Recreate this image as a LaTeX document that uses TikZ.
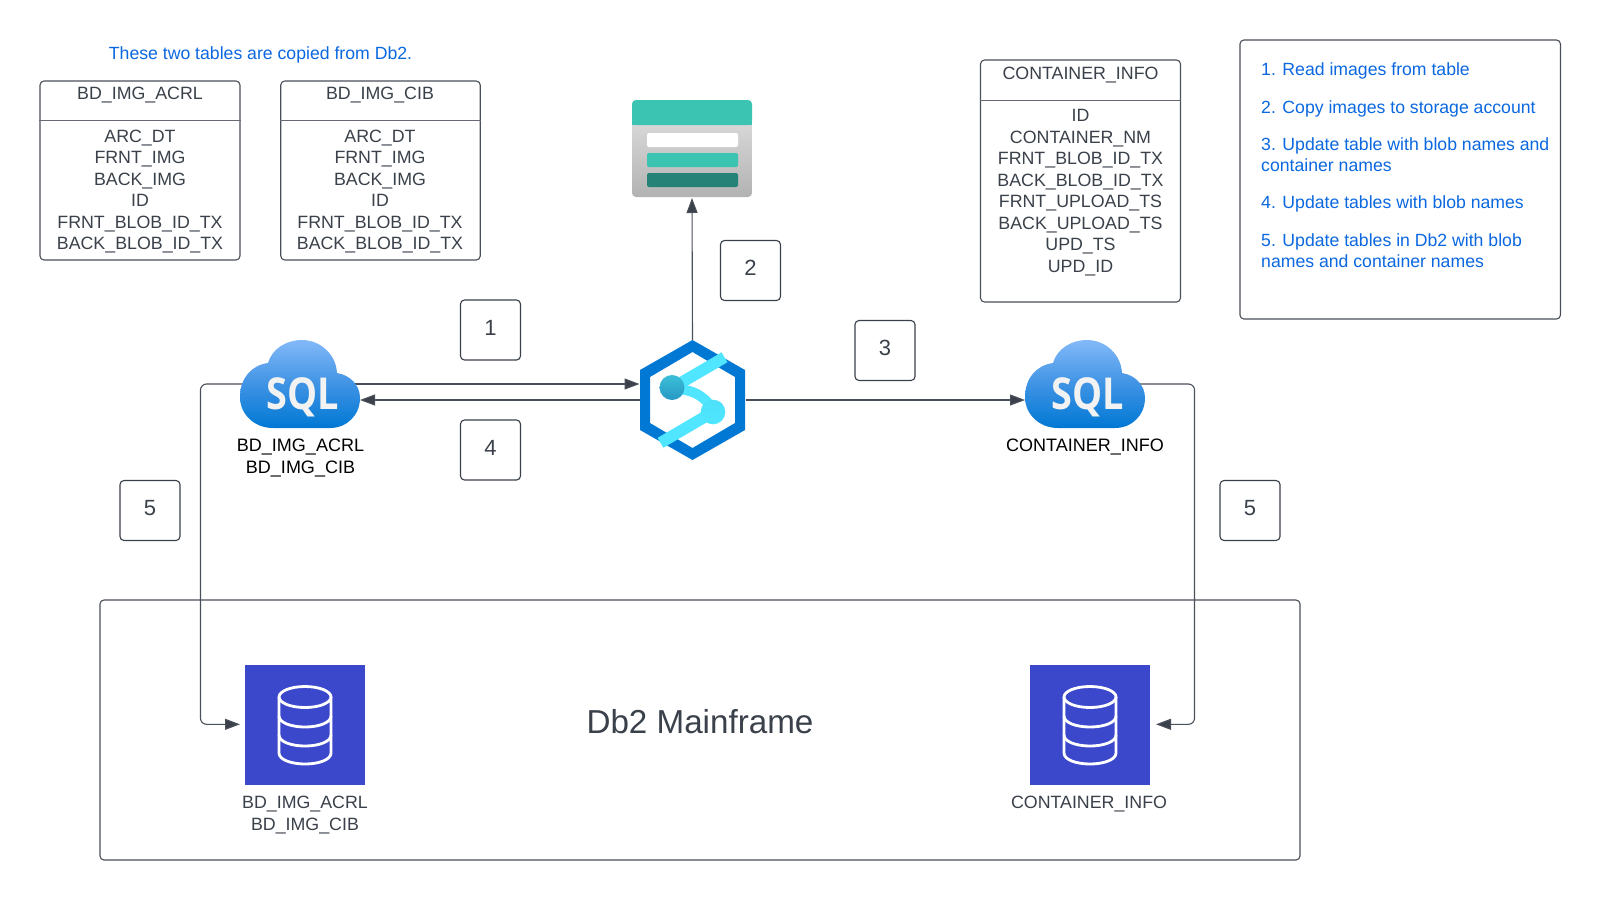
\documentclass[tikz,border=0pt]{standalone}
\usepackage{fontspec}
\setmainfont{Liberation Sans}
\newfontfamily\sqlfont{Open Sans}
\usetikzlibrary{arrows.meta,calc}
\definecolor{inkdark}{HTML}{3A414A}
\definecolor{linecol}{HTML}{4A505A}
\definecolor{noteblue}{HTML}{0B68E0}
\definecolor{azure}{HTML}{0078D4}
\definecolor{cyanbar}{HTML}{50E6FF}
\definecolor{teal}{HTML}{3AC4B1}
\definecolor{tealdark}{HTML}{258277}
\definecolor{dbblue}{HTML}{3B48CC}
\definecolor{AzureTop}{HTML}{83B9F9}
\definecolor{AzureMid}{HTML}{3F93E4}
\definecolor{dotTop}{HTML}{3BBFD8}
\definecolor{dotBot}{HTML}{2698C4}
\tikzset{
  x=1pt,y=-1pt,
  txt/.style={font=\fontsize{18}{21.5}\selectfont,inner sep=0pt,align=center},
  tabletxt/.style={font=\fontsize{17.8}{21.5}\selectfont,inner sep=0pt,align=center,text=inkdark},
  note/.style={font=\fontsize{17.65}{21}\selectfont,inner sep=0pt,align=left,anchor=west,text=noteblue},
  framebox/.style={draw=linecol,line width=1.1pt,rounded corners=4pt,inner sep=0pt,fill=white},
  divider/.style={draw=linecol!85,line width=1pt},
  numbox/.style={framebox,draw=inkdark,minimum width=60pt,minimum height=60pt,text depth=5pt,font=\fontsize{22}{24}\selectfont,text=inkdark},
  icon/.style={inner sep=0pt,outer sep=0pt},
  conn/.style={draw=linecol,line width=1.1pt,-{Triangle[length=15pt,width=11pt,fill=inkdark]}},
}
\newcommand{\sqlcloud}[2]{%
  \begin{scope}[shift={(#1,#2)}]
    \shade[top color=AzureTop,bottom color=azure,middle color=AzureMid]
      (0,57) .. controls (0,38) and (12,25) .. (28,23)
      .. controls (32,9) and (46,0) .. (62,0)
      .. controls (80,0) and (96,14) .. (97,33)
      .. controls (110,35) and (120,45) .. (120,58)
      .. controls (120,75) and (107,88) .. (90,88)
      -- (33,88) .. controls (14,88) and (0,74) .. (0,57) -- cycle;
    \node[icon,text=white!95!black,font=\sqlfont\bfseries\fontsize{44}{44}\selectfont,xscale=.86,transform shape] at (62.5,57) {SQL};
  \end{scope}}
\newcommand{\dbicon}[2]{%
  \begin{scope}[shift={(#1,#2)}]
    \fill[dbblue] (0,0) rectangle (120,120);
    \begin{scope}[draw=white,line width=2.8pt]
      \draw (60,32) ellipse [x radius=26,y radius=10.5];
      \draw (34,32) -- (34,88) .. controls (34,95) and (47,99) .. (60,99) .. controls (73,99) and (86,95) .. (86,88) -- (86,32);
      \draw (34,51) .. controls (34,58) and (47,62) .. (60,62) .. controls (73,62) and (86,58) .. (86,51);
      \draw (34,70) .. controls (34,77) and (47,81) .. (60,81) .. controls (73,81) and (86,77) .. (86,70);
    \end{scope}
  \end{scope}}
\begin{document}
\begin{tikzpicture}
\useasboundingbox (0,0) rectangle (1600,900);
\fill[white] (0,0) rectangle (1600,900);

% invisible anchors for icons
\node[icon,minimum width=120pt,minimum height=88pt] (sqlA) at (300,384) {};
\node[icon,minimum width=120pt,minimum height=88pt] (sqlB) at (1085,384) {};
\node[icon,minimum width=106pt,minimum height=120pt] (hex) at (692.5,400) {};
\node[icon,minimum width=120pt,minimum height=97pt] (store) at (692,148.5) {};
\node[icon,minimum width=120pt,minimum height=120pt] (dbA) at (305,724.3) {};
\node[icon,minimum width=120pt,minimum height=120pt] (dbB) at (1090,724.3) {};

% Db2 mainframe frame
\node[framebox,fill=none,minimum width=1200pt,minimum height=260pt] (main) at (700,730) {};
\node[inner sep=0pt,text=inkdark,font=\fontsize{33.2}{36}\selectfont] (mainlabel) at (700,722) {Db2 Mainframe};

% route corners
\coordinate (routeL) at (200.5,724.3);
\coordinate (routeR) at (1194.5,724.3);

% connectors
\draw[conn,shorten <=-8pt] (sqlA.east) -- (hex.west |- sqlA.east);
\draw[conn] (hex.west) -- (sqlA.east |- hex.west);
\draw[conn,shorten >=1pt] (hex.north) -- (store.south);
\draw[conn] (hex.east) -- (sqlB.west |- hex.east);
\draw[conn,rounded corners=6pt,shorten <=-8pt,shorten >=5pt] (sqlA.west) -| (routeL) -- (dbA.west);
\draw[conn,rounded corners=6pt,shorten <=-14pt,shorten >=6pt] (sqlB.east) -| (routeR) -- (dbB.east);

% SQL clouds
\sqlcloud{240}{340}
\sqlcloud{1025}{340}
\node[txt] (sqlAl) at (300.5,458) {BD\_IMG\_ACRL\\BD\_IMG\_CIB};
\node[txt] (sqlBl) at (1085,447) {CONTAINER\_INFO};

% Db icons
\dbicon{245}{665}
\dbicon{1030}{665}
\node[tabletxt] (dbAl) at (305,815) {BD\_IMG\_ACRL\\BD\_IMG\_CIB};
\node[tabletxt] (dbBl) at (1089,804.5) {CONTAINER\_INFO};

% Storage
\shade[top color=black!13,bottom color=black!30,rounded corners=4pt] (632,110) rectangle (752,197);
\fill[teal,rounded corners=4pt] (632,125) -- (632,100) -- (752,100) -- (752,125) -- cycle;
\fill[teal] (632,115) rectangle (752,125);
\fill[white,rounded corners=2pt] (647,133) rectangle (738,147);
\fill[teal,rounded corners=2pt] (647,153) rectangle (738,167);
\fill[tealdark,rounded corners=2pt] (647,173) rectangle (738,187);

% Synapse hexagon
\fill[azure,even odd rule]
  (692.5,340) -- (745,370) -- (745,430) -- (692.5,460) -- (640,430) -- (640,370) -- cycle
  (692.5,352) -- (735,377) -- (735,423) -- (692.5,448) -- (650,423) -- (650,377) -- cycle;
\draw[cyanbar,line width=11.5pt] (672,388) -- (724.5,357.3);
\draw[cyanbar,line width=11.5pt] (713,412) -- (660.5,442.8);
\draw[cyanbar,line width=10pt] (675,389) .. controls (692,389) and (708,397) .. (713,412);
\shade[top color=dotTop,bottom color=dotBot] (672,387.5) circle (12.5);
\shade[top color=cyanbar!85!dotTop,bottom color=cyanbar] (713,412) circle (12.3);

% Tables
\node[framebox,minimum width=200pt,minimum height=179pt] (tabA) at (140,170.5) {};
\draw[divider] (tabA.west |- 0,120) coordinate (tabAl) -- (tabA.east |- tabAl);
\node[tabletxt] (tabAt) at (140,95) {BD\_IMG\_ACRL};
\node[tabletxt,anchor=north] (tabAb) at (140,129.5) {ARC\_DT\\FRNT\_IMG\\BACK\_IMG\\ID\\FRNT\_BLOB\_ID\_TX\\BACK\_BLOB\_ID\_TX};

\node[framebox,minimum width=199.5pt,minimum height=179pt] (tabB) at (380.5,170.5) {};
\draw[divider] (tabB.west |- 0,120) coordinate (tabBl) -- (tabB.east |- tabBl);
\node[tabletxt] (tabBt) at (380,95) {BD\_IMG\_CIB};
\node[tabletxt,anchor=north] (tabBb) at (380,129.5) {ARC\_DT\\FRNT\_IMG\\BACK\_IMG\\ID\\FRNT\_BLOB\_ID\_TX\\BACK\_BLOB\_ID\_TX};

\node[framebox,minimum width=200pt,minimum height=242pt] (tabC) at (1080.5,181) {};
\draw[divider] (tabC.west |- 0,100) coordinate (tabCl) -- (tabC.east |- tabCl);
\node[tabletxt] (tabCt) at (1080.5,75) {CONTAINER\_INFO};
\node[tabletxt,anchor=north] (tabCb) at (1080.5,109.5) {ID\\CONTAINER\_NM\\FRNT\_BLOB\_ID\_TX\\BACK\_BLOB\_ID\_TX\\FRNT\_UPLOAD\_TS\\BACK\_UPLOAD\_TS\\UPD\_TS\\UPD\_ID};

\node[note,anchor=center,align=center] (caption) at (260.5,55) {These two tables are copied from Db2.};

% Numbered boxes
\node[numbox] (n1) at (490.5,330) {1};
\node[numbox] (n2) at (750.5,270.5) {2};
\node[numbox] (n3) at (885,350.5) {3};
\node[numbox] (n4) at (490.5,450) {4};
\node[numbox] (n5a) at (150,510.5) {5};
\node[numbox] (n5b) at (1250,510.5) {5};

% Legend
\node[framebox,minimum width=320.5pt,minimum height=279pt] (legend) at (1400.2,179.5) {};
\node[note] (l1) at (1261,71) {1. Read images from table};
\node[note] (l2) at (1261,109) {2. Copy images to storage account};
\node[note] (l3) at (1261,154.5) {3. Update table with blob names and\\container names};
\node[note] (l4) at (1261,204) {4. Update tables with blob names};
\node[note] (l5) at (1261,250.5) {5. Update tables in Db2 with blob\\names and container names};
\end{tikzpicture}
\end{document}
